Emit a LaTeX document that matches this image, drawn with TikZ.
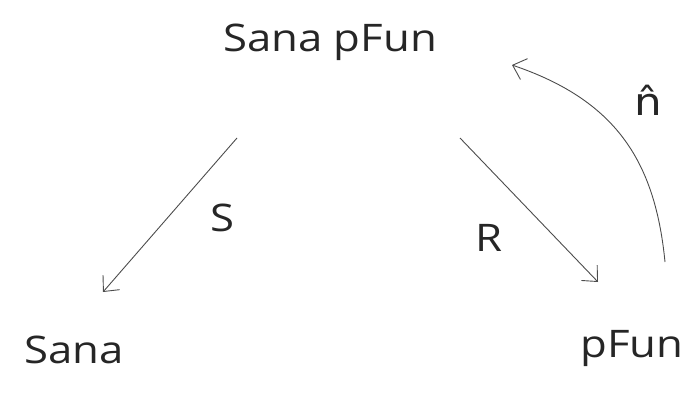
\documentclass[tikz,border=0pt]{standalone}
\usepackage{fontspec}
\setmainfont{Open Sans}
\newfontfamily\dejavu{DejaVu Sans}
\usetikzlibrary{arrows.meta}
\begin{document}
\begin{tikzpicture}[x=1pt,y=-1pt,
  lbl/.style={inner sep=0pt, xscale=1.15, font=\fontsize{38}{40}\selectfont, text=black!85},
  conn/.style={draw=black!70, line width=0.9pt, -{Straight Barb[length=12pt,width=22pt,line width=0.9pt]}}]
\useasboundingbox (0,0) rectangle (690,399);
\node[lbl] (top) at (330,42) {Sana pFun};
\node[lbl] (sana) at (74,350) {Sana};
\node[lbl] (pfun) at (632,348) {pFun};
\coordinate (s1) at (237,138);
\coordinate (s2) at (103,292);
\coordinate (r1) at (460,138);
\coordinate (r2) at (598,282);
\coordinate (n1) at (665,262);
\coordinate (n2) at (512,65);
\draw[conn] (s1) -- (s2);
\draw[conn] (r1) -- (r2);
\draw[conn] (n1) .. controls (655,160) and (615,100) .. (n2);
\node[lbl] (S) at (222,218) {S};
\node[lbl] (R) at (489,238) {R};
\node[lbl] (n) at (648,100) {\dejavu\^{n}};
\end{tikzpicture}
\end{document}
